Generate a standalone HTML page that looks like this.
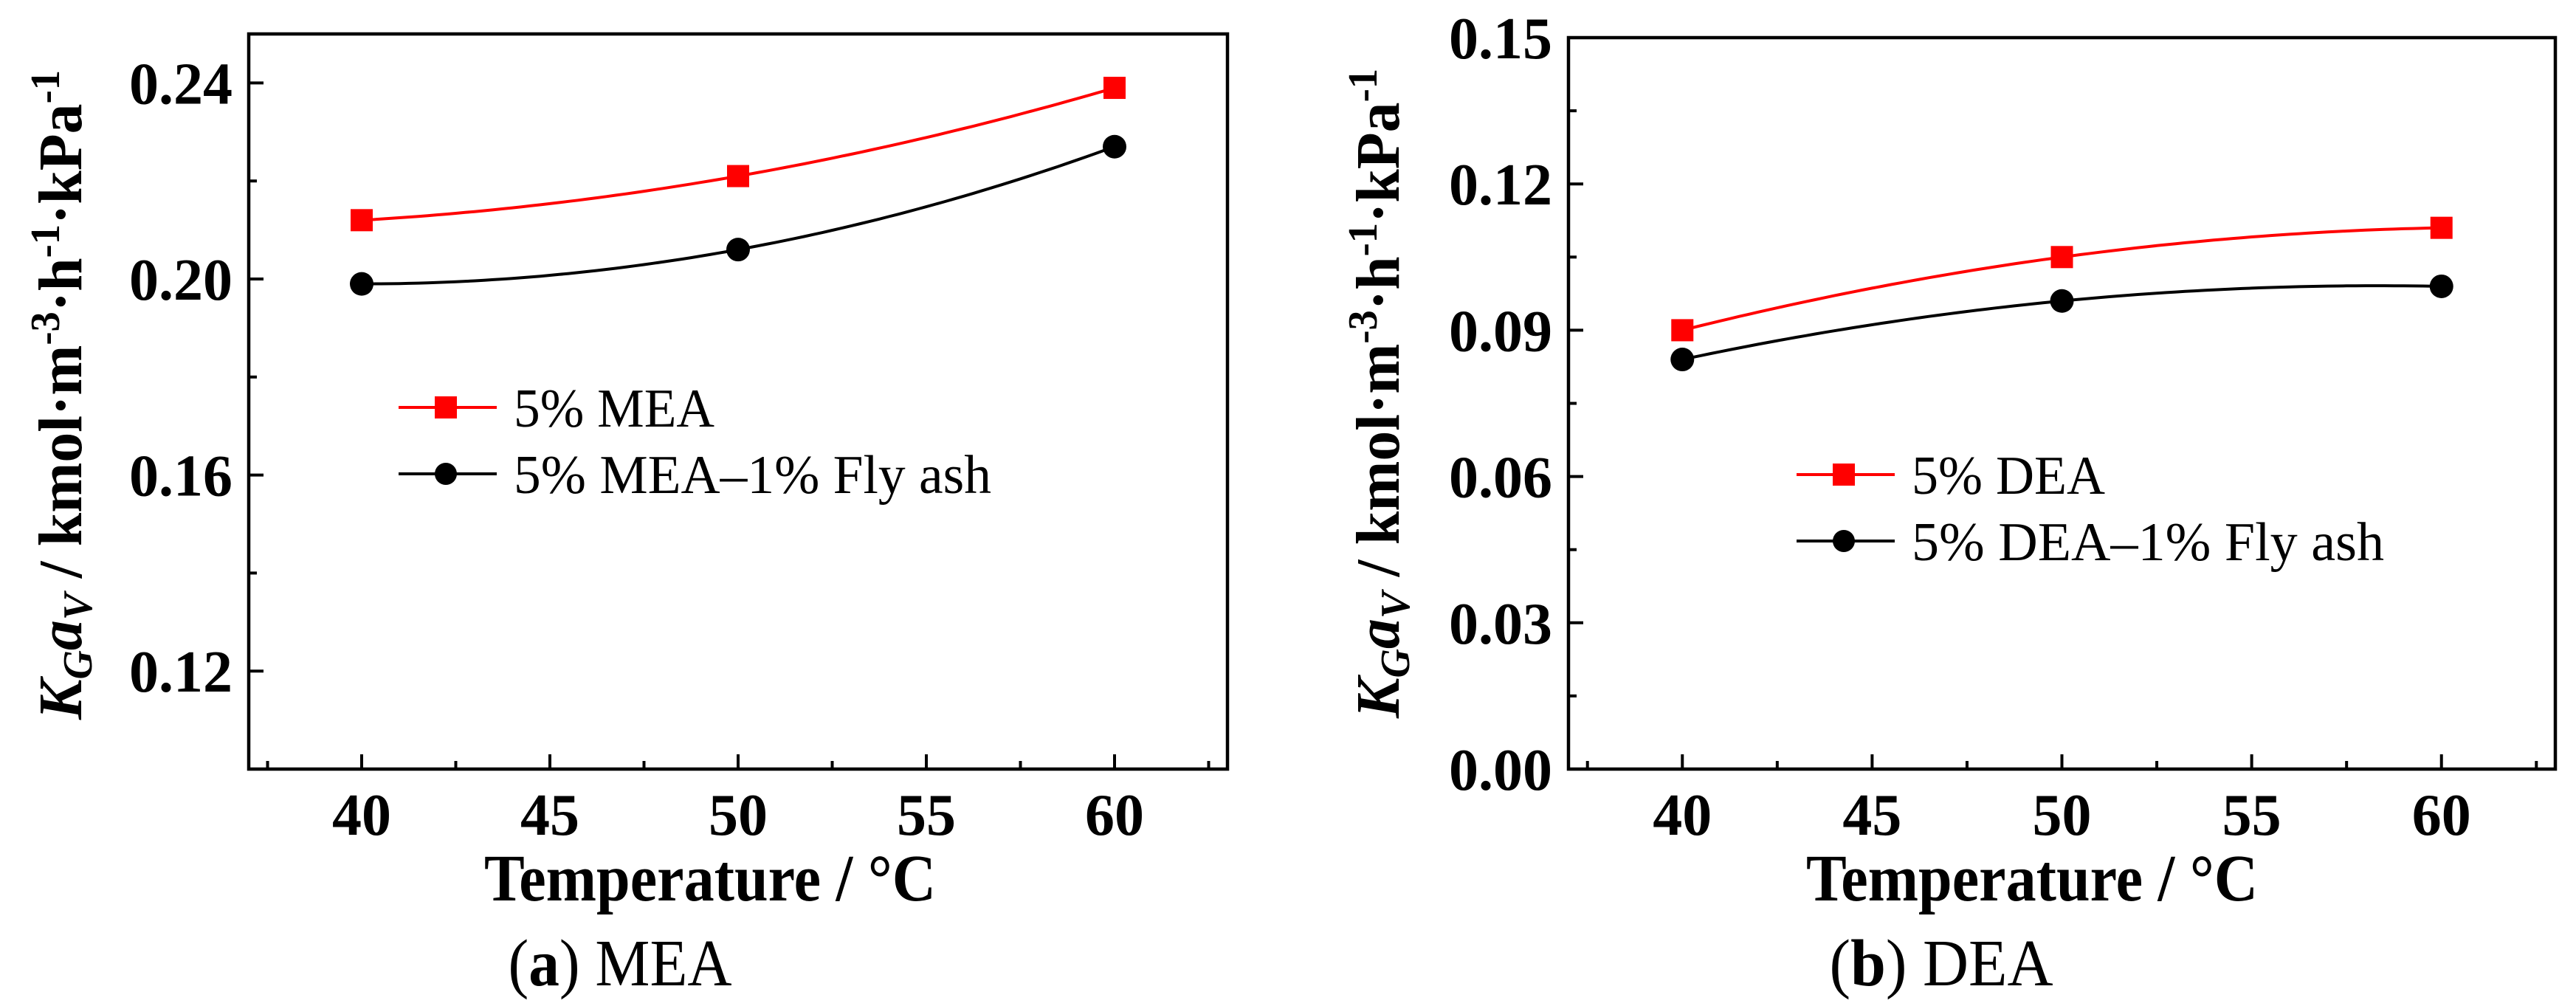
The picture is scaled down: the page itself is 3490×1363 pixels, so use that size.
<!DOCTYPE html>
<html><head><meta charset="utf-8"><style>
html,body{margin:0;padding:0;background:#fff;}
svg{display:block;font-family:"Liberation Serif",serif;}
</style></head><body>
<svg id="fig" width="3490" height="1363" viewBox="0 0 3490 1363" xmlns="http://www.w3.org/2000/svg"></svg>
<script>
const temps = [40, 50, 60];
const mea = [0.212, 0.221, 0.239];
const meaAsh = [0.199, 0.206, 0.227];
const dea = [0.090, 0.105, 0.111];
const deaAsh = [0.084, 0.096, 0.099];
const xTicks = [40, 45, 50, 55, 60];
const yTicksA = [0.12, 0.16, 0.20, 0.24];
const yTicksB = [0.00, 0.03, 0.06, 0.09, 0.12, 0.15];

const NS = "http://www.w3.org/2000/svg";
const svg = document.getElementById('fig');
function mk(tag, attrs, parent) {
  const e = document.createElementNS(NS, tag);
  for (const k in attrs) e.setAttribute(k, attrs[k]);
  (parent || svg).appendChild(e);
  return e;
}
function quad(xs, ys) {
  return function (x) {
    let s = 0;
    for (let i = 0; i < 3; i++) {
      let t = ys[i];
      for (let j = 0; j < 3; j++) if (j !== i) t *= (x - xs[j]) / (xs[i] - xs[j]);
      s += t;
    }
    return s;
  };
}

function panel(cfg) {
  const g = mk('g', {});
  
  
  const X = v => cfg.L + (v - 37) / 26 * (cfg.R - cfg.L);
  const Y = v => cfg.B - (v - cfg.ymin) / (cfg.ymax - cfg.ymin) * (cfg.B - cfg.T);
  const frame = mk('rect', {x: cfg.L, y: cfg.T, width: cfg.R - cfg.L, height: cfg.B - cfg.T, fill: 'none', stroke: '#000', 'stroke-width': 4.5}, g);
  
  
  for (let v = 37.5; v <= 62.6; v += 2.5) {
    const major = xTicks.includes(v);
    const t = mk('line', {x1: X(v), x2: X(v), y1: cfg.B, y2: cfg.B - (major ? 20 : 11), stroke: '#000', 'stroke-width': 4}, g);
    
    
  }
  xTicks.forEach(v => {
    const t = mk('text', {x: X(v), y: 1131, 'font-size': 80, 'font-weight': 'bold', 'text-anchor': 'middle'}, g);
    t.textContent = v;
    
    
  });
  const yt = cfg.yTicks;
  const step = yt[1] - yt[0];
  for (let i = 0; i < yt.length; i++) {
    const t = mk('line', {x1: cfg.L, x2: cfg.L + 20, y1: Y(yt[i]), y2: Y(yt[i]), stroke: '#000', 'stroke-width': 4}, g);
    
    
    const mv = yt[i] + step / 2;
    if (mv < cfg.ymax) {
      const m = mk('line', {x1: cfg.L, x2: cfg.L + 11, y1: Y(mv), y2: Y(mv), stroke: '#000', 'stroke-width': 4}, g);
      
      
    }
    const l = mk('text', {x: cfg.L - 22, y: Y(yt[i]) + 28, 'font-size': 80, 'font-weight': 'bold', 'text-anchor': 'end'}, g);
    l.textContent = yt[i].toFixed(2);
    
    
  }
  cfg.series.forEach(s => {
    const f = quad(temps, s.vals);
    let d = '';
    for (let x = 40; x <= 60.001; x += 0.25) d += (d ? 'L' : 'M') + X(x).toFixed(1) + ',' + Y(f(x)).toFixed(1);
    const p = mk('path', {d: d, fill: 'none', stroke: s.color, 'stroke-width': 4}, g);
    
    
    s.vals.forEach((v, i) => {
      let m;
      if (s.shape === 'sq') m = mk('rect', {x: X(temps[i]) - 15, y: Y(v) - 15, width: 30, height: 30, fill: s.color}, g);
      else m = mk('circle', {cx: X(temps[i]), cy: Y(v), r: 16, fill: s.color}, g);
      
      
    });
  });
  cfg.series.forEach((s, i) => {
    const ly = cfg.legY + i * 90;
    const lg = mk('g', {}, g);
    
    
    mk('line', {x1: cfg.legX, x2: cfg.legX + 133, y1: ly, y2: ly, stroke: s.color, 'stroke-width': 4}, lg);
    const cx = cfg.legX + 64;
    if (s.shape === 'sq') mk('rect', {x: cx - 15, y: ly - 15, width: 30, height: 30, fill: s.color}, lg);
    else mk('circle', {cx: cx, cy: ly, r: 15, fill: s.color}, lg);
    const t = mk('text', {x: cfg.legX + 156, y: ly + 26, 'font-size': 74, textLength: s.tl, lengthAdjust: 'spacingAndGlyphs'}, lg);
    t.textContent = s.label;
  });
  const yt2 = mk('text', {transform: `translate(${cfg.ytX},${cfg.ytY}) rotate(-90)`, 'font-size': 84, 'font-weight': 'bold', 'text-anchor': 'middle', textLength: 880, lengthAdjust: 'spacingAndGlyphs'}, g);
  
  
  yt2.innerHTML = '<tspan font-style="italic">K</tspan><tspan font-style="italic" font-size="56" dy="14">G</tspan><tspan font-style="italic" dy="-14">a</tspan><tspan font-style="italic" font-size="56" dy="14">V</tspan><tspan dy="-14"> / kmol·m</tspan><tspan font-size="56" dy="-30">-3</tspan><tspan dy="30">·h</tspan><tspan font-size="56" dy="-30">-1</tspan><tspan dy="30">·kPa</tspan><tspan font-size="56" dy="-30">-1</tspan>';
  const xt = mk('text', {x: cfg.xtX, y: 1220, 'font-size': 90, 'font-weight': 'bold', 'text-anchor': 'middle', textLength: 612, lengthAdjust: 'spacingAndGlyphs'}, g);
  xt.textContent = 'Temperature / °C';
  
  
  const cap = mk('text', {x: cfg.capX, y: 1335, 'font-size': 90, 'text-anchor': 'middle', textLength: 303, lengthAdjust: 'spacingAndGlyphs'}, g);
  cap.innerHTML = '(<tspan font-weight="bold">' + cfg.capL + '</tspan>) ' + cfg.capT;
  
  
}

panel({name: 'panel-mea', L: 337, R: 1663, T: 46, B: 1042, ymin: 0.10, ymax: 0.25, yTicks: yTicksA,
  series: [{id: 'mea', vals: mea, color: '#ff0000', shape: 'sq', label: '5% MEA', tl: 272},
           {id: 'mea-flyash', vals: meaAsh, color: '#000000', shape: 'ci', label: '5% MEA\u20131% Fly ash', tl: 647}],
  legX: 540, legY: 552, ytX: 110, ytY: 535, xtX: 962, capX: 840, capL: 'a', capT: 'MEA'});
panel({name: 'panel-dea', L: 2125, R: 3462, T: 51, B: 1042, ymin: 0.0, ymax: 0.15, yTicks: yTicksB,
  series: [{id: 'dea', vals: dea, color: '#ff0000', shape: 'sq', label: '5% DEA', tl: 262},
           {id: 'dea-flyash', vals: deaAsh, color: '#000000', shape: 'ci', label: '5% DEA\u20131% Fly ash', tl: 640}],
  legX: 2434, legY: 643, ytX: 1895, ytY: 533, xtX: 2753, capX: 2630, capL: 'b', capT: 'DEA'});
</script>
</body></html>
